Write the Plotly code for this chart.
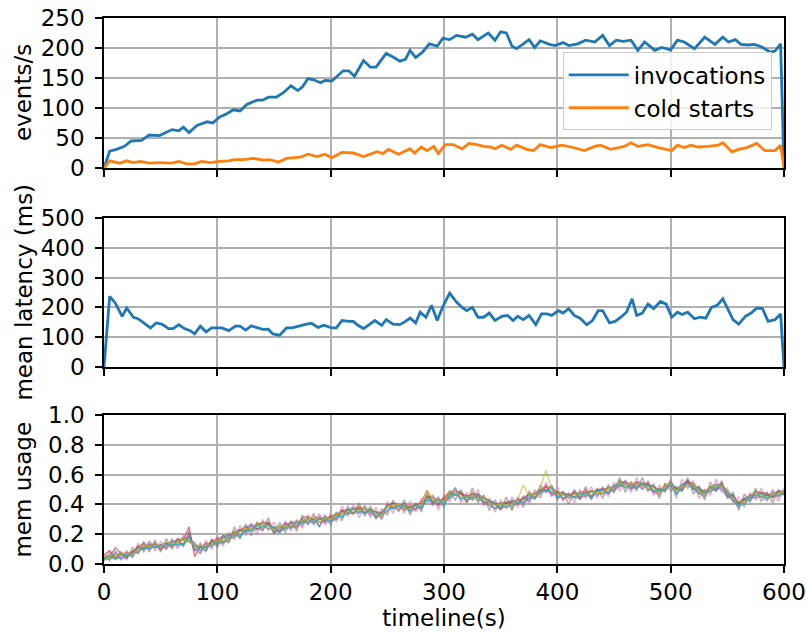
import plotly.graph_objects as go

# ---------------- data ----------------
inv_x = [0, 5, 11, 18, 24, 33, 40, 49, 60, 66, 70, 75, 82, 91, 96, 102, 108, 114, 120, 126,
         135, 140, 145, 152, 158, 165, 171, 175, 180, 185, 191, 195, 201, 205, 211, 216, 221, 229, 235, 240,
         249, 255, 261, 266, 270, 275, 281, 287, 294, 299,
         305, 311, 319, 325, 330, 339, 345, 350, 355, 360, 364, 370, 375, 380, 385, 393, 398, 405, 410, 418,
         425, 433, 440, 446, 452, 458, 465, 471, 477, 486, 492, 500, 506, 512, 521, 530, 539, 546, 551, 557,
         562, 568, 574, 580, 588, 592, 597, 600]
inv_y = [0, 28, 31, 36, 45, 46, 55, 54, 64, 62, 68, 59, 71, 77, 75, 85, 90, 97, 95, 106,
         113, 113, 118, 118, 125, 137, 129, 135, 149, 147, 142, 146, 145, 152, 162, 162, 153, 179, 168, 168,
         191, 185, 178, 181, 196, 184, 193, 207, 203, 216,
         214, 221, 218, 223, 214, 225, 213, 227, 225, 203, 199, 207, 214, 201, 212, 206, 204, 209, 204, 207,
         213, 210, 221, 204, 213, 211, 213, 196, 210, 196, 201, 197, 213, 210, 199, 218, 206, 218, 210, 214,
         206, 205, 206, 202, 193, 195, 207, 0]

cold_x = [0, 5, 14, 20, 26, 32, 40, 49, 60, 66, 73, 80, 86, 94, 102, 110, 115, 123, 132, 141,
          146, 154, 161, 173, 180, 188, 195, 201, 210, 220, 229, 241, 246, 251, 260, 270, 274, 280, 285, 291,
          295, 301, 308, 316, 322, 329, 335, 341, 345, 351, 359, 364, 373, 379, 385, 394, 404, 412, 424, 433,
          438, 447, 459, 465, 471, 480, 489, 501, 506, 512, 518, 524, 533, 542, 546, 554, 560, 567, 576, 583,
          592, 597, 600]
cold_y = [0, 12, 8, 12, 9, 11, 8, 9, 8, 11, 7, 7, 11, 9, 11, 12, 14, 14, 16, 13,
          14, 10, 16, 18, 23, 19, 23, 17, 26, 25, 19, 27, 24, 31, 23, 32, 25, 35, 29, 36,
          24, 39, 39, 32, 41, 39, 36, 35, 32, 38, 31, 38, 31, 29, 39, 34, 38, 35, 29, 36,
          38, 31, 36, 42, 36, 39, 34, 29, 38, 34, 38, 35, 36, 38, 42, 27, 31, 34, 41, 29,
          29, 38, 0]

lat_x = [0, 5, 10, 16, 20, 26, 30, 35, 41, 46, 51, 57, 61, 66, 71, 76, 80, 85, 90, 95,
         104, 110, 116, 120, 125, 130, 136, 140, 145, 149, 155, 161, 166, 171, 177, 183, 189, 194, 201, 205,
         210, 216, 220, 224, 229, 234, 239, 245, 249, 255, 261, 266, 270, 275, 279, 284, 289, 294, 299,
         305, 311, 316, 320, 325, 330, 335, 340, 345, 351, 356, 361, 365, 370, 375, 381, 386, 391, 395, 401,
         405, 410, 415, 420, 426, 431, 436, 440, 446, 451, 456, 461, 466, 470, 475, 480, 485, 491, 496, 501,
         506, 510, 515, 521, 526, 531, 536, 541, 546, 550, 555, 560, 566, 571, 576, 581, 586, 592, 597, 600]
lat_y = [0, 237, 214, 170, 198, 167, 162, 148, 131, 148, 144, 129, 129, 142, 129, 122, 111, 137, 118, 131,
         131, 122, 137, 137, 124, 138, 131, 126, 127, 111, 107, 131, 131, 137, 142, 147, 133, 140, 131, 131,
         156, 153, 153, 140, 129, 142, 156, 140, 159, 144, 142, 153, 164, 148, 184, 167, 207, 156, 203,
         248, 218, 200, 189, 200, 167, 167, 181, 156, 170, 173, 156, 170, 159, 173, 142, 178, 178, 173, 189,
         181, 196, 173, 164, 142, 156, 189, 189, 148, 153, 167, 184, 229, 173, 181, 211, 196, 220, 211, 167,
         184, 176, 184, 162, 167, 164, 200, 207, 229, 198, 159, 144, 170, 181, 198, 196, 153, 159, 178, 0]

# memory usage per worker, sampled every 5 s (values in hundredths of 1.0)
mem_t = [0, 5, 10, 15, 20, 25, 30, 35, 40, 45, 50, 55, 60, 65, 70, 75, 80, 85, 90, 95,
         100, 105, 110, 115, 120, 125, 130, 135, 140, 145, 150, 155, 160, 165, 170, 175, 180, 185, 190, 195,
         200, 205, 210, 215, 220, 225, 230, 235, 240, 245, 250, 255, 260, 265, 270, 275, 280, 285, 290, 295,
         300, 305, 310, 315, 320, 325, 330, 335, 340, 345, 350, 355, 360, 365, 370, 375, 380, 385, 390, 395,
         400, 405, 410, 415, 420, 425, 430, 435, 440, 445, 450, 455, 460, 465, 470, 475, 480, 485, 490, 495,
         500, 505, 510, 515, 520, 525, 530, 535, 540, 545, 550, 555, 560, 565, 570, 575, 580, 585, 590, 595,
         600]
mem_a = [5, 3, 8, 3, 7, 5, 12, 10, 15, 11, 13, 10, 15, 16, 12, 21, 9, 11, 9, 16,
         13, 19, 17, 22, 17, 24, 27, 23, 27, 23, 25, 22, 28, 24, 28, 26, 31, 30, 25, 32,
         29, 34, 31, 36, 38, 34, 39, 34, 35, 30, 40, 37, 39, 41, 36, 40, 37, 45, 41, 44,
         40, 47, 51, 43, 46, 45, 47, 40, 42, 41, 40, 38, 43, 41, 45, 42, 47, 50, 49, 52,
         44, 48, 44, 49, 44, 48, 44, 50, 50, 47, 53, 53, 56, 50, 54, 50, 54, 49, 51, 49,
         55, 50, 49, 55, 50, 52, 46, 52, 49, 53, 45, 47, 39, 44, 42, 48, 48, 44, 49, 45,
         49]
mem_b = [3, 6, 4, 8, 4, 9, 7, 13, 11, 14, 9, 14, 11, 16, 16, 15, 14, 9, 14, 11,
         18, 14, 19, 17, 23, 24, 22, 28, 25, 28, 22, 26, 23, 28, 24, 30, 28, 32, 30, 28,
         33, 31, 36, 33, 35, 39, 34, 37, 32, 35, 35, 40, 36, 40, 40, 36, 41, 43, 46, 40,
         45, 44, 47, 48, 41, 48, 43, 46, 40, 37, 41, 41, 37, 44, 41, 46, 45, 45, 53, 47,
         49, 43, 47, 45, 49, 45, 49, 47, 47, 52, 48, 55, 51, 55, 52, 55, 49, 52, 46, 54,
         52, 49, 54, 51, 54, 48, 50, 48, 54, 51, 49, 43, 42, 40, 46, 44, 47, 48, 44, 48,
         47]
mem_c = [4, 3, 6, 7, 5, 8, 11, 9, 13, 13, 12, 11, 16, 13, 18, 15, 12, 12, 11, 15,
         14, 17, 20, 19, 23, 21, 23, 26, 28, 27, 24, 25, 24, 25, 29, 28, 30, 27, 31, 29,
         32, 33, 33, 37, 34, 37, 35, 37, 35, 32, 39, 41, 39, 37, 39, 39, 38, 46, 42, 40,
         43, 45, 49, 48, 43, 47, 43, 44, 43, 40, 38, 42, 42, 41, 44, 47, 44, 49, 50, 48,
         48, 47, 47, 45, 47, 46, 49, 46, 50, 50, 50, 56, 52, 53, 51, 54, 53, 52, 49, 50,
         56, 47, 53, 56, 51, 50, 49, 49, 50, 54, 48, 42, 41, 43, 44, 49, 45, 46, 45, 49,
         48]
mem_d = [6, 9, 4, 6, 8, 6, 11, 14, 10, 14, 10, 14, 12, 17, 16, 25, 5, 12, 11, 15,
         17, 15, 15, 21, 23, 22, 26, 24, 23, 28, 21, 24, 27, 25, 25, 31, 32, 28, 30, 31,
         31, 30, 36, 34, 37, 37, 34, 36, 31, 34, 40, 38, 39, 36, 38, 37, 42, 49, 41, 40,
         44, 49, 46, 47, 46, 43, 46, 41, 42, 40, 37, 41, 41, 40, 44, 44, 48, 47, 52, 46,
         48, 44, 46, 48, 45, 50, 45, 49, 51, 48, 52, 52, 55, 51, 55, 52, 55, 48, 50, 50,
         53, 51, 50, 56, 53, 47, 48, 51, 51, 54, 46, 46, 41, 41, 46, 46, 48, 47, 45, 48,
         47]
mem_e = [3, 4, 4, 4, 4, 8, 8, 12, 11, 14, 10, 12, 15, 12, 14, 19, 10, 7, 13, 13,
         16, 15, 17, 18, 22, 22, 25, 23, 25, 27, 21, 22, 24, 27, 26, 30, 27, 30, 28, 28,
         29, 30, 35, 34, 34, 35, 37, 33, 34, 32, 36, 38, 37, 39, 35, 37, 39, 42, 44, 39,
         41, 44, 47, 47, 42, 45, 46, 42, 39, 38, 37, 39, 39, 43, 41, 44, 45, 49, 49, 48,
         46, 44, 46, 45, 44, 46, 46, 49, 47, 48, 50, 52, 54, 51, 51, 54, 51, 48, 47, 52,
         52, 47, 51, 55, 50, 48, 45, 51, 51, 50, 45, 43, 38, 43, 44, 45, 45, 43, 47, 46,
         47]
mem_f = [5, 5, 11, 7, 5, 8, 12, 10, 13, 11, 13, 14, 13, 15, 13, 18, 13, 11, 14, 13,
         16, 19, 19, 21, 23, 25, 23, 26, 28, 27, 24, 22, 26, 28, 28, 28, 31, 30, 32, 29,
         32, 33, 36, 36, 37, 38, 37, 36, 35, 34, 39, 41, 40, 39, 38, 40, 41, 45, 45, 42,
         44, 47, 49, 48, 45, 47, 47, 44, 43, 40, 41, 41, 42, 43, 44, 47, 47, 50, 52, 51,
         48, 48, 46, 47, 48, 48, 49, 49, 50, 51, 52, 55, 55, 53, 55, 54, 53, 52, 49, 52,
         55, 50, 53, 55, 54, 50, 48, 52, 53, 53, 49, 45, 41, 44, 46, 48, 48, 46, 47, 49,
         49]
mem_i = [7, 2, 9, 3, 9, 4, 14, 8, 15, 9, 15, 10, 17, 10, 20, 15, 15, 7, 16, 10,
         19, 12, 21, 17, 26, 19, 27, 20, 30, 23, 28, 20, 29, 22, 30, 24, 33, 26, 34, 26,
         34, 28, 39, 32, 40, 31, 39, 31, 38, 30, 42, 34, 41, 34, 42, 35, 44, 40, 46, 36,
         47, 42, 51, 41, 48, 43, 50, 39, 44, 35, 43, 37, 45, 38, 46, 40, 50, 45, 55, 45,
         52, 42, 48, 41, 50, 44, 52, 44, 52, 45, 55, 49, 56, 48, 58, 50, 56, 46, 53, 48,
         57, 44, 57, 51, 56, 44, 50, 46, 57, 48, 51, 41, 45, 38, 48, 43, 51, 42, 50, 42,
         51]
mem_j = [2, 8, 3, 8, 3, 11, 7, 15, 8, 16, 8, 17, 10, 17, 12, 22, 9, 14, 8, 17,
         11, 19, 14, 25, 18, 27, 19, 28, 22, 31, 20, 28, 21, 29, 22, 33, 26, 34, 25, 33,
         26, 35, 29, 39, 33, 41, 32, 39, 30, 37, 33, 43, 35, 43, 33, 41, 35, 47, 39, 45,
         38, 49, 43, 50, 41, 51, 41, 46, 36, 43, 36, 45, 36, 45, 38, 49, 43, 53, 48, 53,
         43, 49, 40, 50, 43, 52, 43, 51, 44, 53, 48, 58, 48, 55, 49, 58, 49, 54, 44, 54,
         49, 52, 49, 58, 47, 52, 43, 55, 49, 56, 44, 48, 36, 47, 42, 51, 42, 48, 41, 50,
         46]
mem_g = [6, 3, 5, 7, 7, 6, 10, 13, 11, 14, 11, 15, 13, 15, 16, 16, 12, 12, 12, 13,
         16, 16, 16, 21, 22, 24, 23, 25, 27, 25, 23, 25, 25, 25, 28, 29, 30, 31, 28, 31,
         30, 33, 33, 35, 37, 35, 38, 35, 34, 32, 39, 39, 40, 37, 37, 39, 39, 50, 43, 42,
         42, 48, 49, 45, 45, 46, 44, 44, 41, 40, 40, 40, 39, 43, 53, 46, 47, 51, 63, 50,
         47, 47, 44, 47, 46, 46, 48, 48, 48, 51, 51, 55, 52, 54, 54, 53, 51, 51, 48, 52,
         54, 49, 52, 53, 53, 49, 46, 52, 52, 53, 48, 44, 42, 41, 45, 48, 46, 44, 47, 47,
         49]
mem_h = [3, 5, 3, 5, 7, 5, 9, 11, 10, 12, 12, 13, 13, 13, 13, 17, 12, 9, 12, 12,
         14, 14, 18, 19, 19, 23, 22, 26, 25, 26, 24, 21, 25, 24, 28, 27, 29, 28, 30, 30,
         28, 32, 32, 34, 37, 35, 34, 36, 32, 34, 38, 37, 39, 38, 36, 39, 38, 43, 42, 42,
         40, 46, 47, 44, 45, 44, 45, 42, 42, 37, 40, 38, 40, 41, 42, 46, 44, 48, 49, 50,
         45, 46, 46, 44, 47, 47, 45, 49, 49, 48, 52, 54, 51, 53, 52, 54, 52, 49, 49, 49,
         54, 46, 53, 53, 52, 47, 48, 49, 53, 51, 48, 43, 40, 40, 45, 46, 47, 44, 46, 46,
         48]
mem_series = [mem_a, mem_b, mem_c, mem_d, mem_e, mem_f, mem_i, mem_j, mem_g, mem_h]
mem_colors = ["#1f77b4", "#ff7f0e", "#2ca02c", "#d62728", "#9467bd",
              "#8c564b", "#e377c2", "#7f7f7f", "#bcbd22", "#17becf"]

x_ticks = [0, 100, 200, 300, 400, 500, 600]

# ---------------- figure ----------------
FONT = "DejaVu Sans"
FS = 23
fig = go.Figure()

fig.add_trace(go.Scatter(x=inv_x, y=inv_y, mode="lines", name="invocations",
                         line=dict(color="#1f77b4", width=2.8), xaxis="x", yaxis="y",
                         legendgroup="a"))
fig.add_trace(go.Scatter(x=cold_x, y=cold_y, mode="lines", name="cold starts",
                         line=dict(color="#ff7f0e", width=2.8), xaxis="x", yaxis="y",
                         legendgroup="b"))
fig.add_trace(go.Scatter(x=lat_x, y=lat_y, mode="lines", name="latency", showlegend=False,
                         line=dict(color="#1f77b4", width=2.8), xaxis="x2", yaxis="y2"))
for i, s in enumerate(mem_series):
    fig.add_trace(go.Scatter(x=mem_t, y=[v / 100 for v in s], mode="lines", showlegend=False,
                             line=dict(color=mem_colors[i], width=1.5), opacity=0.6,
                             xaxis="x3", yaxis="y3"))

tickfont = dict(family=FONT, size=FS, color="black")
common_x = dict(range=[0, 600], tickvals=x_ticks, showgrid=True, gridcolor="#b0b0b0", gridwidth=1.6,
                showline=True, linecolor="black", linewidth=1.5, mirror=True, automargin=False,
                ticks="outside", ticklen=7, tickwidth=1.5, tickcolor="black", zeroline=False,
                tickfont=tickfont)
common_y = dict(showgrid=True, gridcolor="#b0b0b0", gridwidth=1.6, automargin=False,
                showline=True, linecolor="black", linewidth=1.5, mirror=True,
                ticks="outside", ticklen=7, tickwidth=1.5, tickcolor="black", zeroline=False,
                tickfont=tickfont, ticklabelstandoff=6)

d_top = [0.7253, 1.0]
d_mid = [0.3608, 0.6337]
d_bot = [0.0, 0.2729]

fig.update_layout(
    template="none",
    width=806, height=634,
    margin=dict(l=104, r=22, t=18, b=70, autoexpand=False),
    paper_bgcolor="white", plot_bgcolor="white",
    font=dict(family=FONT, size=FS, color="black"),
    xaxis=dict(common_x, anchor="y", showticklabels=False),
    xaxis2=dict(common_x, anchor="y2", showticklabels=False, matches="x"),
    xaxis3=dict(common_x, anchor="y3", matches="x",
                title=dict(text="timeline(s)", standoff=4, font=dict(family=FONT, size=FS))),
    yaxis=dict(common_y, domain=d_top, anchor="x", range=[0, 250],
               tickvals=[0, 50, 100, 150, 200, 250]),
    yaxis2=dict(common_y, domain=d_mid, anchor="x2", range=[0, 500],
                tickvals=[0, 100, 200, 300, 400, 500]),
    yaxis3=dict(common_y, domain=d_bot, anchor="x3", range=[0, 1],
                tickvals=[0, 0.2, 0.4, 0.6, 0.8, 1.0], tickformat=".1f"),
    legend=dict(x=0.982, xanchor="right", y=0.937, yanchor="top",
                bgcolor="rgba(255,255,255,0.8)", bordercolor="#cccccc", borderwidth=1,
                font=dict(family=FONT, size=FS), tracegroupgap=0, traceorder="grouped",
                itemwidth=60),
    showlegend=True,
)

ytitles = [("events/s", sum(d_top) / 2), ("mean latency (ms)", sum(d_mid) / 2),
           ("mem usage", sum(d_bot) / 2)]
for txt, yc in ytitles:
    fig.add_annotation(text=txt, xref="paper", yref="paper", x=-0.119, y=yc,
                       xanchor="center", yanchor="middle", textangle=-90, showarrow=False,
                       font=dict(family=FONT, size=FS, color="black"))

fig.write_html("out.html", post_script="document.body.style.margin='0';",
               config={"displayModeBar": False})
